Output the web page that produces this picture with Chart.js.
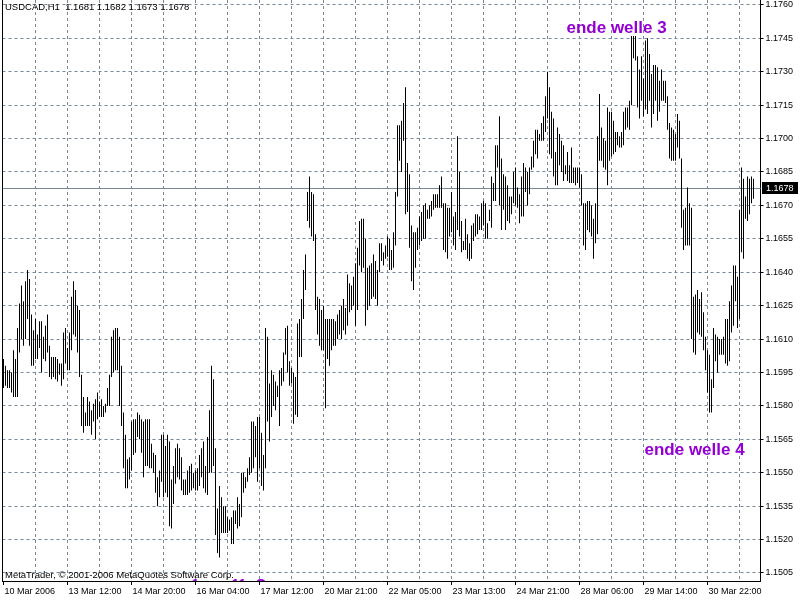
<!DOCTYPE html>
<html>
<head>
<meta charset="utf-8">
<title>USDCAD,H1</title>
<script src="https://cdn.jsdelivr.net/npm/chart.js@4.4.1/dist/chart.umd.min.js"></script>
<style>
  html, body { margin: 0; padding: 0; background: #fff; }
  #wrap { width: 800px; height: 600px; }
</style>
</head>
<body>
<div id="wrap"><canvas id="chart" width="800" height="600"></canvas></div>
<script>
/* =========================
   DATA
========================= */
const symbol = "USDCAD,H1";
const lastOpen = 1.1681;
const lastClose = 1.1678;

// hourly bars, oldest first
const highs = [
  1.1601,1.1598,1.1596,1.1596,1.1595,1.1605,1.1601,1.1615,1.1626,1.1634,
  1.1627,1.1636,1.1641,1.1637,1.1621,1.1614,1.1619,1.1612,1.1618,1.1618,
  1.1611,1.1616,1.1621,1.1607,1.1602,1.1602,1.1602,1.1601,1.1599,1.1599,
  1.1613,1.1615,1.1606,1.1613,1.1629,1.1636,1.1632,1.1625,1.1623,1.1594,
  1.1584,1.1577,1.1584,1.1582,1.1578,1.1581,1.1583,1.1586,1.1582,1.1583,
  1.1580,1.1581,1.1588,1.1594,1.1611,1.1614,1.1615,1.1615,1.1611,1.1598,
  1.1577,1.1567,1.1556,1.1557,1.1573,1.1574,1.1574,1.1577,1.1576,1.1574,
  1.1573,1.1574,1.1574,1.1574,1.1563,1.1559,1.1558,1.1548,1.1551,1.1567,
  1.1567,1.1562,1.1567,1.1564,1.1547,1.1553,1.1561,1.1563,1.1561,1.1557,
  1.1547,1.1547,1.1551,1.1553,1.1554,1.1550,1.1551,1.1552,1.1558,1.1561,
  1.1564,1.1553,1.1566,1.1578,1.1598,1.1592,1.1561,1.1534,1.1544,1.1539,
  1.1535,1.1535,1.1530,1.1529,1.1530,1.1533,1.1533,1.1539,1.1536,1.1550,
  1.1550,1.1548,1.1552,1.1557,1.1573,1.1573,1.1571,1.1575,1.1575,1.1568,
  1.1558,1.1615,1.1611,1.1590,1.1596,1.1594,1.1591,1.1589,1.1596,1.1597,
  1.1604,1.1615,1.1616,1.1600,1.1597,1.1595,1.1593,1.1617,1.1619,1.1628,
  1.1641,1.1648,1.1676,1.1683,1.1676,1.1675,1.1657,1.1629,1.1628,1.1623,
  1.1625,1.1619,1.1619,1.1619,1.1619,1.1619,1.1618,1.1621,1.1623,1.1625,
  1.1628,1.1624,1.1639,1.1635,1.1634,1.1638,1.1644,1.1651,1.1663,1.1664,
  1.1664,1.1655,1.1642,1.1643,1.1644,1.1648,1.1645,1.1641,1.1653,1.1653,
  1.1649,1.1652,1.1656,1.1655,1.1650,1.1658,1.1676,1.1706,1.1706,1.1708,
  1.1716,1.1723,1.1689,1.1684,1.1661,1.1658,1.1658,1.1660,1.1665,1.1667,
  1.1670,1.1671,1.1668,1.1670,1.1672,1.1675,1.1675,1.1675,1.1679,1.1683,
  1.1671,1.1671,1.1669,1.1669,1.1676,1.1665,1.1667,1.1701,1.1685,1.1663,
  1.1654,1.1664,1.1657,1.1653,1.1661,1.1662,1.1666,1.1666,1.1665,1.1671,
  1.1672,1.1671,1.1662,1.1668,1.1683,1.1680,1.1697,1.1697,1.1710,1.1691,
  1.1684,1.1683,1.1679,1.1674,1.1674,1.1685,1.1687,1.1678,1.1675,1.1683,
  1.1689,1.1687,1.1685,1.1687,1.1692,1.1699,1.1704,1.1704,1.1702,1.1707,
  1.1710,1.1719,1.1730,1.1723,1.1712,1.1709,1.1694,1.1705,1.1702,1.1699,
  1.1697,1.1688,1.1694,1.1688,1.1696,1.1687,1.1687,1.1687,1.1687,1.1684,
  1.1671,1.1671,1.1672,1.1672,1.1670,1.1664,1.1671,1.1701,1.1720,1.1705,
  1.1700,1.1699,1.1714,1.1712,1.1712,1.1708,1.1703,1.1703,1.1701,1.1703,
  1.1712,1.1714,1.1714,1.1717,1.1746,1.1746,1.1746,1.1737,1.1731,1.1737,
  1.1727,1.1744,1.1745,1.1738,1.1729,1.1733,1.1733,1.1732,1.1726,1.1731,
  1.1726,1.1726,1.1719,1.1707,1.1705,1.1704,1.1702,1.1711,1.1708,1.1691,
  1.1668,1.1669,1.1678,1.1671,1.1669,1.1629,1.1630,1.1632,1.1628,1.1631,
  1.1622,1.1611,1.1605,1.1603,1.1592,1.1615,1.1612,1.1611,1.1610,1.1610,
  1.1611,1.1619,1.1619,1.1627,1.1634,1.1643,1.1643,1.1638,1.1668,1.1687,
  1.1682,1.1674,1.1683,1.1682,1.1683,1.1682
];

const lows = [
  1.1588,1.1589,1.1588,1.1588,1.1586,1.1584,1.1584,1.1584,1.1604,1.1610,
  1.1607,1.1610,1.1619,1.1607,1.1598,1.1598,1.1601,1.1601,1.1606,1.1595,
  1.1601,1.1600,1.1604,1.1593,1.1592,1.1593,1.1592,1.1591,1.1594,1.1589,
  1.1592,1.1599,1.1596,1.1596,1.1605,1.1612,1.1611,1.1604,1.1593,1.1571,
  1.1568,1.1571,1.1571,1.1571,1.1567,1.1573,1.1565,1.1574,1.1575,1.1575,
  1.1575,1.1577,1.1580,1.1580,1.1593,1.1595,1.1596,1.1596,1.1580,1.1571,
  1.1552,1.1543,1.1543,1.1547,1.1551,1.1558,1.1559,1.1566,1.1565,1.1559,
  1.1548,1.1553,1.1553,1.1552,1.1552,1.1550,1.1541,1.1535,1.1539,1.1546,
  1.1539,1.1541,1.1539,1.1526,1.1525,1.1536,1.1545,1.1548,1.1547,1.1542,
  1.1540,1.1540,1.1540,1.1541,1.1542,1.1543,1.1542,1.1542,1.1544,1.1548,
  1.1543,1.1541,1.1540,1.1550,1.1550,1.1553,1.1522,1.1514,1.1512,1.1523,
  1.1523,1.1523,1.1523,1.1524,1.1518,1.1518,1.1527,1.1525,1.1526,1.1530,
  1.1541,1.1543,1.1546,1.1549,1.1550,1.1552,1.1557,1.1546,1.1552,1.1544,
  1.1542,1.1552,1.1573,1.1564,1.1575,1.1580,1.1578,1.1584,1.1571,1.1589,
  1.1591,1.1603,1.1595,1.1589,1.1590,1.1572,1.1576,1.1575,1.1602,1.1602,
  1.1619,1.1632,1.1663,1.1660,1.1656,1.1654,1.1623,1.1612,1.1607,1.1605,
  1.1605,1.1579,1.1601,1.1598,1.1605,1.1607,1.1607,1.1610,1.1612,1.1610,
  1.1614,1.1612,1.1616,1.1622,1.1623,1.1625,1.1616,1.1623,1.1643,1.1640,
  1.1642,1.1616,1.1623,1.1625,1.1628,1.1629,1.1628,1.1625,1.1640,1.1645,
  1.1643,1.1646,1.1647,1.1641,1.1641,1.1642,1.1652,1.1674,1.1690,1.1685,
  1.1699,1.1666,1.1667,1.1651,1.1636,1.1632,1.1642,1.1650,1.1652,1.1654,
  1.1655,1.1655,1.1664,1.1664,1.1665,1.1668,1.1669,1.1669,1.1669,1.1669,
  1.1650,1.1649,1.1646,1.1656,1.1658,1.1652,1.1650,1.1659,1.1656,1.1649,
  1.1650,1.1650,1.1646,1.1645,1.1646,1.1654,1.1656,1.1657,1.1659,1.1659,
  1.1661,1.1655,1.1655,1.1663,1.1660,1.1672,1.1672,1.1687,1.1670,1.1659,
  1.1668,1.1659,1.1663,1.1662,1.1666,1.1671,1.1670,1.1669,1.1662,1.1665,
  1.1665,1.1676,1.1670,1.1675,1.1686,1.1687,1.1693,1.1691,1.1699,1.1699,
  1.1699,1.1703,1.1709,1.1693,1.1691,1.1683,1.1679,1.1679,1.1688,1.1685,
  1.1681,1.1684,1.1681,1.1680,1.1680,1.1680,1.1679,1.1680,1.1678,1.1670,
  1.1652,1.1650,1.1659,1.1658,1.1656,1.1646,1.1653,1.1657,1.1690,1.1690,
  1.1687,1.1686,1.1679,1.1690,1.1692,1.1693,1.1694,1.1697,1.1696,1.1696,
  1.1697,1.1704,1.1705,1.1704,1.1715,1.1736,1.1735,1.1714,1.1709,1.1717,
  1.1710,1.1713,1.1711,1.1717,1.1705,1.1711,1.1717,1.1708,1.1712,1.1717,
  1.1717,1.1716,1.1704,1.1691,1.1690,1.1690,1.1690,1.1696,1.1691,1.1660,
  1.1650,1.1652,1.1652,1.1652,1.1610,1.1604,1.1603,1.1613,1.1612,1.1611,
  1.1605,1.1596,1.1586,1.1577,1.1577,1.1588,1.1600,1.1595,1.1603,1.1603,
  1.1603,1.1599,1.1598,1.1600,1.1613,1.1616,1.1627,1.1615,1.1619,1.1649,
  1.1646,1.1664,1.1663,1.1666,1.1671,1.1673
];

// one date label every 32 bars
const dateTicks = [
  "10 Mar 2006", "13 Mar 12:00", "14 Mar 20:00", "16 Mar 04:00",
  "17 Mar 12:00", "20 Mar 21:00", "22 Mar 05:00", "23 Mar 13:00",
  "24 Mar 21:00", "28 Mar 06:00", "29 Mar 14:00", "30 Mar 22:00"
];

const priceTicks = [
  1.1505, 1.1520, 1.1535, 1.1550, 1.1565, 1.1580, 1.1595, 1.1610, 1.1625,
  1.1640, 1.1655, 1.1670, 1.1685, 1.1700, 1.1715, 1.1730, 1.1745, 1.1760
];

// text objects placed on the chart (bar index, price)
const notes = [
  { text: "ende welle 3", bar: 282, price: 1.17473 },
  { text: "ende welle 4", bar: 321, price: 1.15580 }
];

// wave marks sitting just below the visible price range (only their tops show)
const lowMarks = [
  { text: "1", bar: 94, price: 1.14977 },
  { text: "11", bar: 114, price: 1.14977 },
  { text: "O", bar: 126, price: 1.14977 }
];

/* =========================
   SETUP
========================= */
const GRID = "#778899";
const NOTE_COLOR = "#9400D3";
const FONT = "'Liberation Sans', Arial, sans-serif";
const EMPTY_SLOTS = 3;

const barLabels = [];
for (let i = 0; i < highs.length + EMPTY_SLOTS; i++) barLabels.push(i);
const ranges = highs.map((h, i) => [lows[i], h]);

const mtDecor = {
  id: "mtDecor",
  beforeDatasetsDraw(chart) {
    const { ctx, chartArea: a, scales: { y } } = chart;
    const py = Math.round(y.getPixelForValue(lastClose)) + 0.5;
    ctx.save();
    ctx.strokeStyle = GRID;
    ctx.lineWidth = 1;
    ctx.beginPath();
    ctx.moveTo(a.left, py);
    ctx.lineTo(a.right, py);
    ctx.stroke();
    ctx.restore();
  },
  afterDraw(chart) {
    const { ctx, chartArea: a, scales: { x, y } } = chart;
    ctx.save();

    // left frame line
    ctx.fillStyle = "#000";
    ctx.fillRect(Math.floor(a.left), 0, 1, Math.ceil(a.bottom));

    // current price box
    const py = Math.round(y.getPixelForValue(lastClose));
    ctx.fillStyle = "#000";
    ctx.fillRect(Math.ceil(a.right) + 1, py - 6, 36, 12);
    ctx.fillStyle = "#fff";
    ctx.font = "9px " + FONT;
    ctx.textBaseline = "middle";
    ctx.fillText(lastClose.toFixed(4), Math.ceil(a.right) + 5, py + 0.5);

    // header
    ctx.fillStyle = "#000";
    ctx.textBaseline = "top";
    ctx.font = "9.5px " + FONT;
    const hdr = symbol + "  " + [lastOpen, highs[highs.length - 1], lows[lows.length - 1], lastClose]
      .map(v => v.toFixed(4)).join(" ");
    ctx.fillText(hdr, 5, 3);

    // wave notes
    ctx.textBaseline = "alphabetic";
    ctx.fillStyle = NOTE_COLOR;
    ctx.font = "bold 17px " + FONT;
    notes.forEach(n => {
      ctx.fillText(n.text, x.getPixelForValue(n.bar) - 1, y.getPixelForValue(n.price));
    });

    // clipped marks at the bottom edge
    ctx.save();
    ctx.beginPath();
    ctx.rect(a.left, a.top, a.right - a.left, a.bottom - a.top);
    ctx.clip();
    ctx.font = "bold 14px " + FONT;
    lowMarks.forEach(m => {
      ctx.fillText(m.text, x.getPixelForValue(m.bar), y.getPixelForValue(m.price));
    });
    ctx.restore();

    // copyright
    ctx.fillStyle = "#000";
    ctx.textBaseline = "alphabetic";
    ctx.font = "9.5px " + FONT;
    ctx.fillText("MetaTrader, \u00A9 2001-2006 MetaQuotes Software Corp.", 5, 578);

    ctx.restore();
  }
};

new Chart(document.getElementById("chart"), {
  type: "bar",
  data: {
    labels: barLabels,
    datasets: [{
      data: ranges,
      backgroundColor: "#000",
      borderWidth: 0,
      barThickness: 1,
      inflateAmount: 0,
      grouped: false
    }]
  },
  options: {
    responsive: false,
    animation: false,
    layout: { padding: { left: 2.5, top: 0, right: 0, bottom: 0 } },
    plugins: {
      legend: { display: false },
      tooltip: { enabled: false }
    },
    scales: {
      x: {
        type: "category",
        offset: true,
        afterFit: s => { s.height = 19; s.paddingLeft = 0; s.paddingRight = 0; },
        grid: {
          offset: false,
          color: c => (c.index > 0 && c.index % 16 === 0) ? GRID : "rgba(0,0,0,0)",
          tickColor: c => (c.index % 32 === 0) ? "#000" : "rgba(0,0,0,0)",
          tickLength: 4,
          lineWidth: 1
        },
        border: { display: true, color: "#000", width: 1, dash: [3, 3] },
        ticks: {
          autoSkip: false,
          maxRotation: 0,
          minRotation: 0,
          align: "start",
          labelOffset: 1,
          padding: 1,
          color: "#000",
          font: { family: FONT, size: 9 },
          callback: (v, i) => (i % 32 === 0 && dateTicks[i / 32]) ? dateTicks[i / 32] : ""
        }
      },
      y: {
        position: "right",
        min: 1.15014,
        max: 1.17622,
        afterBuildTicks: s => { s.ticks = priceTicks.map(v => ({ value: v })); },
        afterFit: s => { s.width = 39.5; s.paddingTop = 0; s.paddingBottom = 0; },
        grid: { color: GRID, tickColor: "#000", tickLength: 3, lineWidth: 1 },
        border: { display: true, color: "#000", width: 1, dash: [3, 3] },
        ticks: {
          padding: 2,
          color: "#000",
          font: { family: FONT, size: 9 },
          callback: v => Number(v).toFixed(4)
        }
      }
    }
  },
  plugins: [mtDecor]
});
</script>
</body>
</html>
